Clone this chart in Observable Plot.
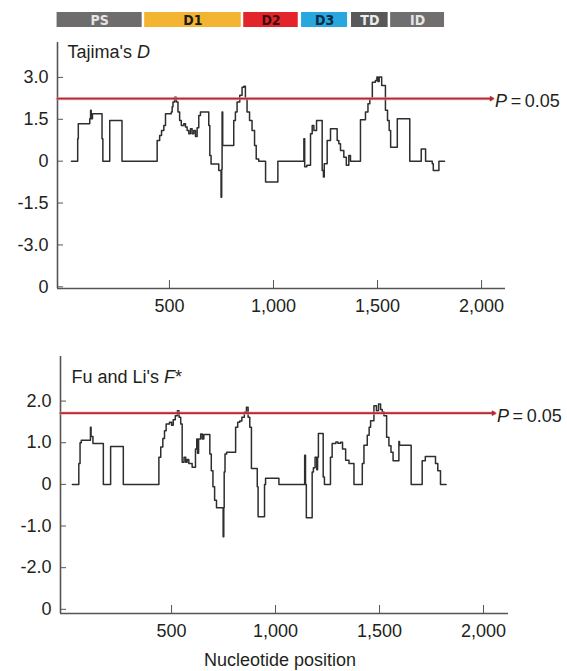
<!DOCTYPE html>
<html>
<head>
<meta charset="utf-8">
<script src="https://cdn.jsdelivr.net/npm/d3@7"></script>
<script src="https://cdn.jsdelivr.net/npm/@observablehq/plot@0.6"></script>
<style>
  body { margin: 0; background: #fff; }
  #root { position: relative; width: 567px; height: 671px; overflow: hidden; }
  #root svg { position: absolute; left: 0; }
  .regionbar text { font-stretch: condensed; }
</style>
</head>
<body>
<div id="root"></div>
<script>
// ---- Data ----
const regionNames = ["PS", "D1", "D2", "D3", "TD", "ID"];
const regionStart = [-40, 381, 857, 1135, 1375, 1563];
const regionEnd = [369, 845, 1119, 1356, 1551, 1822];
const regionFill = ["#6f6c6d", "#f2b431", "#e3242b", "#27a7dd", "#58585a", "#706e6f"];
const regionTextColor = ["#e4e4e4", "#1d1a14", "#3d0c0c", "#0b2a44", "#ececec", "#e6e6e6"];

// Tajima's D sliding window (position, value)
const tajimaSeries = [
  [29,0],[59,0.8],[62,1.34],[117,1.52],[121,1.82],[124,1.52],[130,1.70],[176,0.8],[180,0],
  [213,1.46],[272,0],[441,0.74],[453,0.92],[462,1.1],[473,1.28],[481,1.70],[509,1.76],
  [513,1.95],[517,2.12],[525,2.29],[533,2.12],[541,1.76],[549,1.46],[557,1.28],[569,1.34],
  [577,1.22],[585,1.10],[593,0.98],[601,1.16],[609,0.98],[617,1.10],[625,0.88],[633,1.2],
  [641,1.64],[649,1.76],[689,1.28],[694,0.2],[700,-0.1],[737,-0.33],[748,-1.29],[751,-0.3],
  [753,1.76],[756,0.56],[809,1.46],[817,1.76],[825,2.12],[838,2.36],[849,2.65],[858,2.68],
  [865,2.24],[873,1.76],[885,1.46],[897,1.1],[909,0.56],[917,0.08],[929,0],[962,-0.75],
  [1021,0],[1146,0.8],[1150,-0.2],[1160,-0.15],[1178,0.98],[1186,1.28],[1194,1.10],[1207,1.46],
  [1234,-0.33],[1240,-0.57],[1244,-0.09],[1258,0.74],[1274,1.16],[1306,0.74],[1314,0.62],
  [1322,0.38],[1338,0.14],[1350,-0.15],[1362,0.2],[1370,0],[1418,1.48],[1442,1.76],[1454,2.06],
  [1463,2.24],[1475,2.83],[1490,2.89],[1497,3.01],[1502,2.85],[1508,3.01],[1520,2.71],
  [1538,1.82],[1548,1.46],[1556,1.1],[1563,0.5],[1595,1.52],[1655,0],[1710,0.44],[1731,0],
  [1763,-0.09],[1768,-0.33],[1795,0],[1822,0]
];

// Fu and Li's F* sliding window (position, value)
const fuliSeries = [
  [23,0],[54,0.5],[60,1.0],[66,1.06],[110,1.37],[113,1.15],[122,0.98],[172,0],[207,0.91],
  [268,0],[439,0.65],[448,0.9],[458,1.1],[466,1.29],[474,1.45],[490,1.49],[500,1.42],[508,1.55],
  [518,1.65],[528,1.77],[536,1.61],[544,1.45],[551,0.53],[560,0.65],[568,0.53],[575,0.6],
  [583,0.5],[599,0.41],[615,0.85],[621,1.09],[625,0.75],[630,1.09],[640,1.21],[648,1.09],
  [655,1.2],[684,0.73],[691,0.33],[699,-0.06],[707,-0.38],[716,-0.56],[748,-1.26],[751,-0.56],
  [753,0.3],[757,0.73],[765,0.77],[808,1.37],[818,1.49],[828,1.52],[838,1.61],[850,1.73],
  [860,1.85],[868,1.61],[876,1.37],[884,0.38],[912,-0.06],[916,-0.78],[947,0],[952,0.15],
  [1016,0],[1140,0.7],[1144,0],[1148,-0.8],[1176,0.3],[1182,0.4],[1190,0.65],[1198,0.35],
  [1202,0.65],[1206,1.22],[1229,0.18],[1235,0],[1264,0.65],[1272,0.98],[1290,1.02],[1300,0.99],
  [1313,1.01],[1322,0.85],[1337,0.58],[1353,0.5],[1377,0],[1417,0.5],[1425,0.94],[1441,1.18],
  [1450,1.37],[1457,1.53],[1473,1.89],[1485,1.77],[1495,1.93],[1505,1.8],[1513,1.74],
  [1521,1.65],[1534,1.13],[1545,0.93],[1555,0.77],[1565,0.57],[1593,1.03],[1596,0.94],
  [1652,0],[1705,0.57],[1720,0.67],[1769,0.5],[1780,0.33],[1793,0],[1820,0]
];

const xTicks = [500, 1000, 1500, 2000];
const xTickLabels = ["500", "1,000", "1,500", "2,000"];
const tajimaYTicks = [3, 1.5, 0, -1.5, -3, -4.5];
const tajimaYLabels = ["3.0", "1.5", "0", "-1.5", "-3.0", "0"];
const fuliYTicks = [2, 1, 0, -1, -2, -3];
const fuliYLabels = ["2.0", "1.0", "0", "-1.0", "-2.0", "0"];
const tajimaThreshold = 2.24;
const fuliThreshold = 1.71;
const thresholdEnd = 2055;
const thresholdLabel = "P = 0.05";
const xLabel = "Nucleotide position";

// ---- Rendering ----
const FONT = "'Liberation Sans', Arial, Helvetica, sans-serif";
const root = document.getElementById("root");
function place(svg, top) { svg.style.top = top + "px"; root.appendChild(svg); }

const topXDomain = [-38, 2115];

// region bar
const regions = regionNames.map((n, i) => ({n, a: regionStart[i], b: regionEnd[i], f: regionFill[i], t: regionTextColor[i]}));
const bar = Plot.plot({
  width: 567, height: 30, marginLeft: 57, marginRight: 62, marginTop: 12, marginBottom: 3,
  className: "regionbar",
  style: {background: "transparent", overflow: "visible"},
  x: {domain: topXDomain, axis: null},
  y: {domain: ["r"], axis: null, padding: 0},
  marks: [
    Plot.barX(regions, {x1: "a", x2: "b", y: () => "r", fill: "f"}),
    Plot.text(regions, {x: d => (d.a + d.b) / 2, y: () => "r", text: "n", fill: "t",
      fontSize: 14, fontWeight: "bold", fontFamily: "'DejaVu Sans Condensed', 'DejaVu Sans', sans-serif", dy: 0.5})
  ]
});
place(bar, 0);

function panel({series, xDomain, yDomain, yTicks, yLabels, threshold, title, titleDx, titleDy,
                marginLeft, marginRight, marginTop, marginBottom, height, extra = []}) {
  const data = series.map(([p, v]) => ({p, v}));
  return Plot.plot({
    width: 567, height, marginLeft, marginRight, marginTop, marginBottom,
    style: {fontFamily: FONT, fontSize: "18px", color: "#231f20", background: "transparent", overflow: "visible"},
    x: {domain: xDomain},
    y: {domain: yDomain},
    marks: [
      Plot.axisY(yTicks, {tickFormat: d => yLabels[yTicks.indexOf(d)], tickSize: -6, tickPadding: 15,
        label: null, stroke: "#555", fill: "#231f20"}),
      Plot.axisX(xTicks, {tickFormat: d => xTickLabels[xTicks.indexOf(d)], tickSize: -8, tickPadding: 19,
        label: null, stroke: "#555", fill: "#231f20"}),
      Plot.ruleX([xDomain[0]], {stroke: "#555", strokeWidth: 1.6}),
      Plot.ruleY([yDomain[0]], {stroke: "#555", strokeWidth: 1.6}),
      Plot.line(data, {x: "p", y: "v", curve: "step-after", stroke: "#2e2e2e", strokeWidth: 1.5}),
      Plot.arrow([threshold], {x1: () => xDomain[0], x2: () => thresholdEnd, y1: d => d, y2: d => d,
        stroke: "#e9a3a6", strokeWidth: 3.4, headLength: 0, strokeOpacity: 0.7}),
      Plot.arrow([threshold], {x1: () => xDomain[0], x2: () => thresholdEnd, y1: d => d, y2: d => d,
        stroke: "#b42a31", strokeWidth: 1.8, headLength: 2.5, headAngle: 70}),
      Plot.text([threshold], {x: () => thresholdEnd, y: d => d, text: () => thresholdLabel,
        textAnchor: "start", dx: 2, dy: 3, fill: "#231f20"}),
      Plot.text([title], {frameAnchor: "top-left", text: d => d, textAnchor: "start", lineAnchor: "middle",
        dx: titleDx, dy: titleDy, fill: "#231f20"}),
      ...extra
    ]
  });
}

const p1 = panel({
  series: tajimaSeries, xDomain: topXDomain, yDomain: [-4.56, 4.25],
  yTicks: tajimaYTicks, yLabels: tajimaYLabels, threshold: tajimaThreshold,
  title: "Tajima's D", titleDx: 10, titleDy: 9.3,
  marginLeft: 57, marginRight: 62, marginTop: 12, marginBottom: 32, height: 290
});
place(p1, 30);

const p2 = panel({
  series: fuliSeries, xDomain: [-34, 2120], yDomain: [-3.1, 3.07],
  yTicks: fuliYTicks, yLabels: fuliYLabels, threshold: fuliThreshold,
  title: "Fu and Li's F*", titleDx: 11, titleDy: 20.3,
  marginLeft: 60, marginRight: 59, marginTop: 16, marginBottom: 58, height: 331,
  extra: [Plot.text([xLabel], {frameAnchor: "bottom", text: d => d, lineAnchor: "middle", dy: 46.5, dx: -4.5, fill: "#231f20"})]
});
place(p2, 340);

// italic parts as real text (tspans)
const rich = {
  "Tajima's D": "Tajima's <tspan font-style=\"italic\">D</tspan>",
  "Fu and Li's F*": "Fu and Li's <tspan font-style=\"italic\">F</tspan>*",
  "P = 0.05": "<tspan font-style=\"italic\">P</tspan>\u2009=\u20090.05"
};
root.querySelectorAll("text").forEach(t => {
  const s = t.textContent;
  if (rich[s]) t.innerHTML = rich[s];
});
</script>
</body>
</html>
